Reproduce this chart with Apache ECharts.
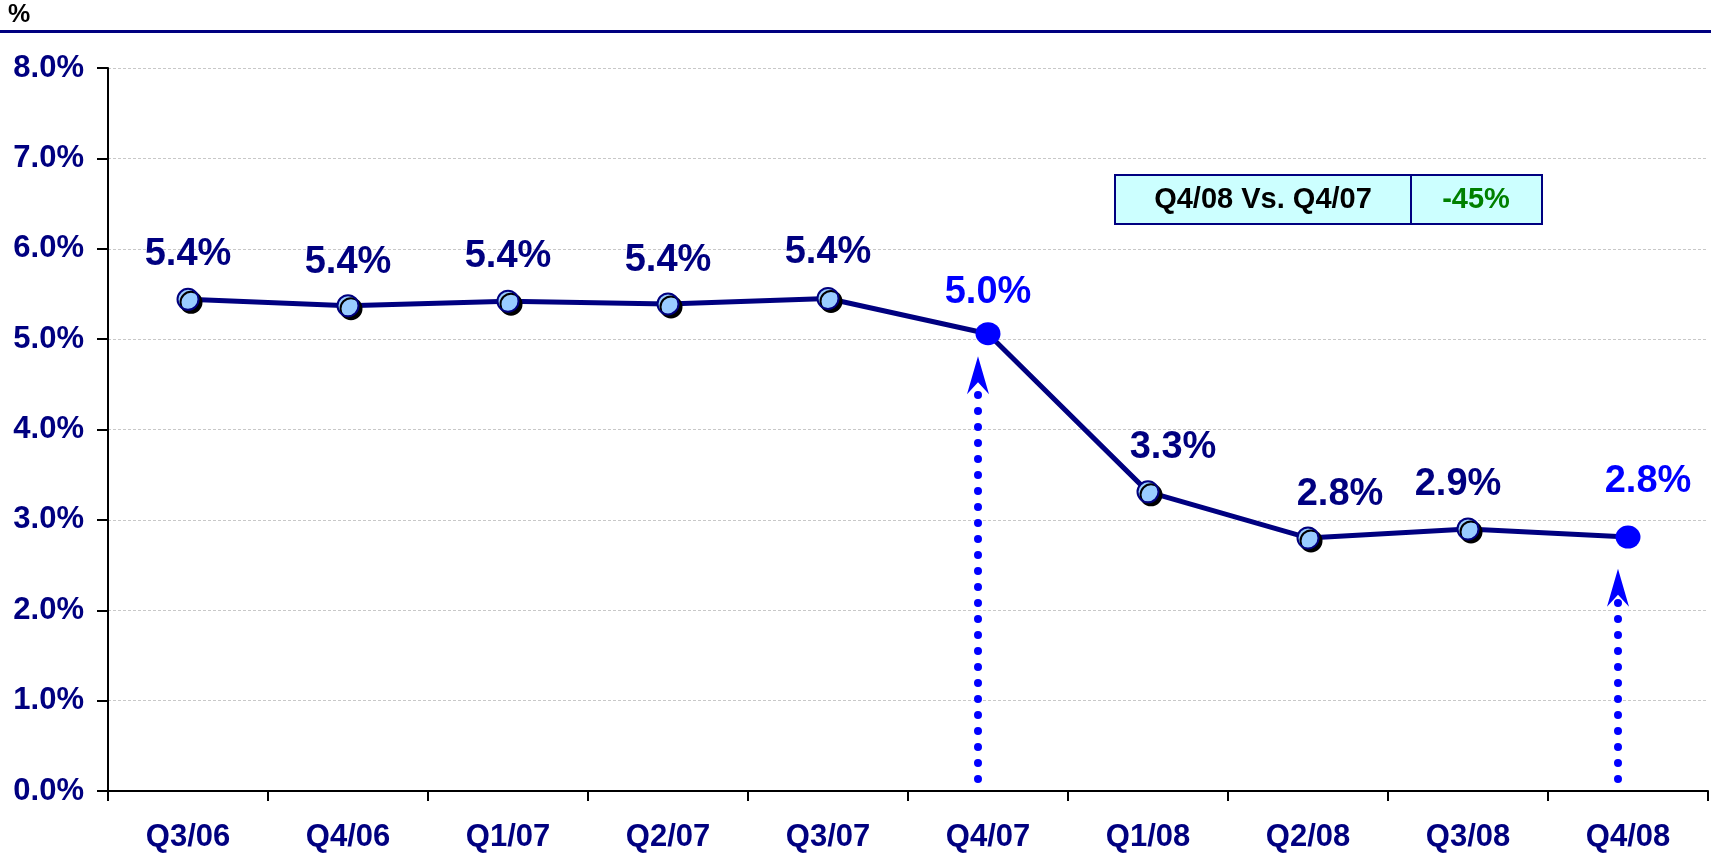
<!DOCTYPE html>
<html>
<head>
<meta charset="utf-8">
<script src="https://cdn.jsdelivr.net/npm/echarts@6/dist/echarts.min.js"></script>
<style>
  html, body { margin:0; padding:0; background:#fff; }
  #chart { width:1711px; height:855px; }
</style>
</head>
<body>
<div id="chart"></div>
<script>
/* categories and values */
const quarters = ['Q3/06','Q4/06','Q1/07','Q2/07','Q3/07','Q4/07','Q1/08','Q2/08','Q3/08','Q4/08']
const rates    = [5.44, 5.37, 5.42, 5.39, 5.45, 5.06, 3.31, 2.80, 2.90, 2.81]
const rateText = ['5.4%','5.4%','5.4%','5.4%','5.4%','5.0%','3.3%','2.8%','2.9%','2.8%']
const yTicks   = [0, 1, 2, 3, 4, 5, 6, 7, 8]

/* highlighted quarters + arrow tops */
const highlight  = [5, 9]
const arrowIdx   = [5, 9]
const arrowTop   = [4.81, 2.46]

/* label nudges (px) */
const labelDx = [0, 0, 0, 0, 0, 0, 25, 32, -10, 20]
const labelDy = [0, 1, 0, 1, -1, 3, 0, 1, 0, -11]

const FONT = '"Liberation Sans", Arial, sans-serif'
const NAVY = '#000080'
const BLUE = '#0000FF'

const chart = echarts.init(document.getElementById('chart'))

const lineData = rates.map((v, i) => {
  const hi = highlight.includes(i)
  return {
    value: v,
    symbolSize: hi ? [25, 23] : 21,
    itemStyle: hi
      ? { color: BLUE, borderWidth: 0, shadowColor: 'rgba(0,0,0,0)' }
      : { color: '#99CCFF', borderColor: NAVY, borderWidth: 2,
          shadowColor: '#000', shadowBlur: 0, shadowOffsetX: 3, shadowOffsetY: 3 },
    label: {
      formatter: rateText[i],
      color: hi ? BLUE : NAVY,
      offset: [labelDx[i], labelDy[i]]
    }
  }
})

const option = {
  backgroundColor: '#fff',
  animation: false,
  grid: { left: 108, right: 3, top: 68, bottom: 64 },
  xAxis: {
    type: 'category',
    data: quarters,
    boundaryGap: true,
    axisLine: { lineStyle: { color: '#000', width: 2 } },
    axisTick: { show: true, length: 10, lineStyle: { color: '#000', width: 2 } },
    axisLabel: {
      margin: 31, color: NAVY, fontFamily: FONT, fontWeight: 'bold', fontSize: 31
    },
    splitLine: { show: false }
  },
  yAxis: {
    type: 'value',
    min: yTicks[0],
    max: yTicks[yTicks.length - 1],
    interval: 1,
    axisLine: { show: true, lineStyle: { color: '#000', width: 2 } },
    axisTick: { show: true, length: 11, lineStyle: { color: '#000', width: 2 } },
    axisLabel: {
      margin: 24, color: NAVY, fontFamily: FONT, fontWeight: 'bold', fontSize: 31,
      formatter: v => v.toFixed(1) + '%'
    },
    splitLine: { lineStyle: { color: '#c8c8c8', width: 1, type: [3, 2] } }
  },
  graphic: [
    { type: 'text', left: 8, top: 3,
      style: { text: '%', fill: '#000', font: 'bold 25px ' + FONT } },
    { type: 'rect', shape: { x: 0, y: 30, width: 1711, height: 3 },
      style: { fill: NAVY } },
    { type: 'rect', shape: { x: 1115, y: 175, width: 296, height: 49 },
      style: { fill: '#CCFFFF', stroke: NAVY, lineWidth: 2 } },
    { type: 'rect', shape: { x: 1411, y: 175, width: 131, height: 49 },
      style: { fill: '#CCFFFF', stroke: NAVY, lineWidth: 2 } },
    { type: 'text', x: 1263, y: 200,
      style: { text: 'Q4/08 Vs. Q4/07', fill: '#000', font: 'bold 29px ' + FONT,
               align: 'center', verticalAlign: 'middle' } },
    { type: 'text', x: 1476, y: 200,
      style: { text: '-45%', fill: '#008000', font: 'bold 29px ' + FONT,
               align: 'center', verticalAlign: 'middle' } }
  ],
  series: [
    {
      type: 'custom',
      z: 1,
      data: arrowIdx.map((k, i) => [k, arrowTop[i]]),
      renderItem: (params, api) => {
        const base = api.coord([api.value(0), 0])
        const top = api.coord([api.value(0), api.value(1)])
        const x = base[0] - 10
        const ty = top[1]
        return {
          type: 'group',
          children: [
            { type: 'line',
              shape: { x1: x, y1: base[1] - 12, x2: x, y2: ty + 30 },
              style: { stroke: BLUE, lineWidth: 8, lineDash: [0, 16], lineCap: 'round' } },
            { type: 'polygon',
              shape: { points: [[x, ty], [x + 11, ty + 38], [x, ty + 26], [x - 11, ty + 38]] },
              style: { fill: BLUE } }
          ]
        }
      }
    },
    {
      type: 'line',
      z: 3,
      data: lineData,
      symbol: 'circle',
      showAllSymbol: true,
      lineStyle: { color: NAVY, width: 5 },
      label: {
        show: true,
        position: 'top',
        distance: 14,
        fontFamily: FONT,
        fontWeight: 'bold',
        fontSize: 38
      }
    }
  ]
}

chart.setOption(option)
</script>
</body>
</html>
